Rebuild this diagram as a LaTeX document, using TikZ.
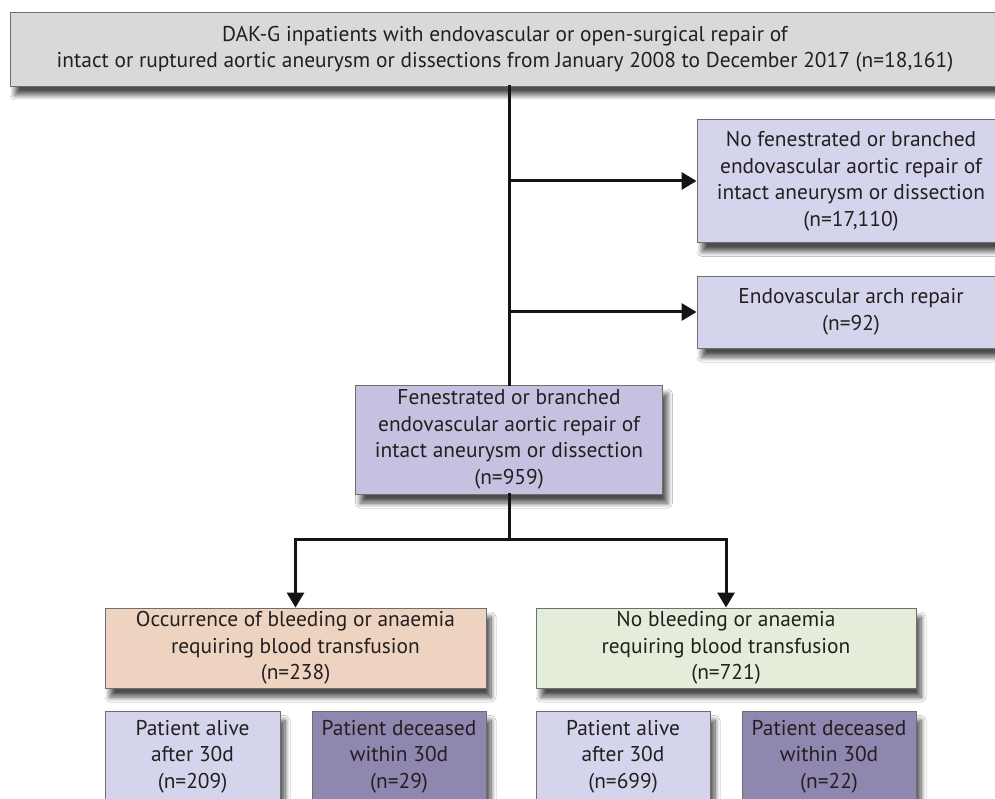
\documentclass[tikz,border=0pt]{standalone}
\usepackage{fontspec}
\setmainfont{PT Sans}
\usetikzlibrary{arrows.meta,shadows.blur,calc}
\definecolor{topgray}{RGB}{217,217,217}
\definecolor{lav}{RGB}{212,213,236}
\definecolor{fenc}{RGB}{198,193,224}
\definecolor{dec}{RGB}{143,135,176}
\definecolor{peach}{RGB}{238,211,193}
\definecolor{greenc}{RGB}{227,237,218}
\definecolor{boxborder}{RGB}{110,110,110}
\definecolor{textc}{RGB}{35,31,32}
\definecolor{linec}{RGB}{20,20,20}
\begin{document}
\begin{tikzpicture}[x=1pt,y=-1pt,
  box/.style={draw=boxborder, line width=0.9pt, inner sep=0pt, align=center,
    font=\fontsize{21.4}{26.5}\selectfont, text=textc,
    blur shadow={shadow xshift=5pt, shadow yshift=-9pt, shadow blur radius=5pt,
      shadow blur steps=10, shadow opacity=70}},
  txt/.style={inner sep=0pt, align=center, font=\fontsize{21.4}{26.5}\selectfont, text=textc},
  conn/.style={draw=linec, line width=3pt, line cap=rect},
  arr/.style={conn, -{Triangle[width=17pt,length=15pt]}}]
\clip (0,0) rectangle (995,799);
\fill[white] (0,0) rectangle (995,799);

\node[box, fill=topgray, minimum width=990, minimum height=74] (top) at (505,49)
  {DAK-G inpatients with endovascular or open-surgical repair of\\intact or ruptured aortic aneurysm or dissections from January 2008 to December 2017 (n=18,161)};
\node[box, fill=lav, minimum width=308, minimum height=123] (nofen) at (851,181)
  {No fenestrated or branched\\endovascular aortic repair of\\intact aneurysm or dissection\\(n=17,110)};
\node[box, fill=lav, minimum width=308, minimum height=72] (arch) at (851,312)
  {Endovascular arch repair\\(n=92)};
\node[box, fill=fenc, minimum width=307, minimum height=109] (fen) at (509,439.5)
  {Fenestrated or branched\\endovascular aortic repair of\\intact aneurysm or dissection\\(n=959)};
\node[box, fill=peach, minimum width=381, minimum height=80] (bleed) at (295.5,648)
  {Occurrence of bleeding or anaemia\\requiring blood transfusion\\(n=238)};
\node[box, fill=greenc, minimum width=380, minimum height=80] (nobleed) at (726,648)
  {No bleeding or anaemia\\requiring blood transfusion\\(n=721)};

\node[box, fill=lav, minimum width=175, minimum height=120, anchor=north] (la) at (192.5,711) {};
\node[box, fill=dec, minimum width=174, minimum height=120, anchor=north] (ld) at (399,711) {};
\node[box, fill=lav, minimum width=174, minimum height=120, anchor=north] (ra) at (623,711) {};
\node[box, fill=dec, minimum width=174, minimum height=120, anchor=north] (rd) at (829,711) {};
\node[txt, anchor=north] (lat) at ($(la.north)+(0,9)$) {Patient alive\\after 30d\\(n=209)};
\node[txt, anchor=north] (ldt) at ($(ld.north)+(0,9)$) {Patient deceased\\within 30d\\(n=29)};
\node[txt, anchor=north] (rat) at ($(ra.north)+(0,9)$) {Patient alive\\after 30d\\(n=699)};
\node[txt, anchor=north] (rdt) at ($(rd.north)+(0,9)$) {Patient deceased\\within 30d\\(n=22)};

\draw[conn] (top.south -| fen.north) -- (fen.north);
\draw[arr] (fen.north |- nofen.west) -- (nofen.west);
\draw[arr] (fen.north |- arch.west) -- (arch.west);
\coordinate (ls) at (bleed.north |- 0,539);
\coordinate (rs) at (nobleed.north |- ls);
\draw[conn] (fen.south) -- (fen.south |- ls);
\draw[conn] (ls) -- (rs);
\draw[arr] (ls) -- (bleed.north);
\draw[arr] (rs) -- (nobleed.north);
\end{tikzpicture}
\end{document}
